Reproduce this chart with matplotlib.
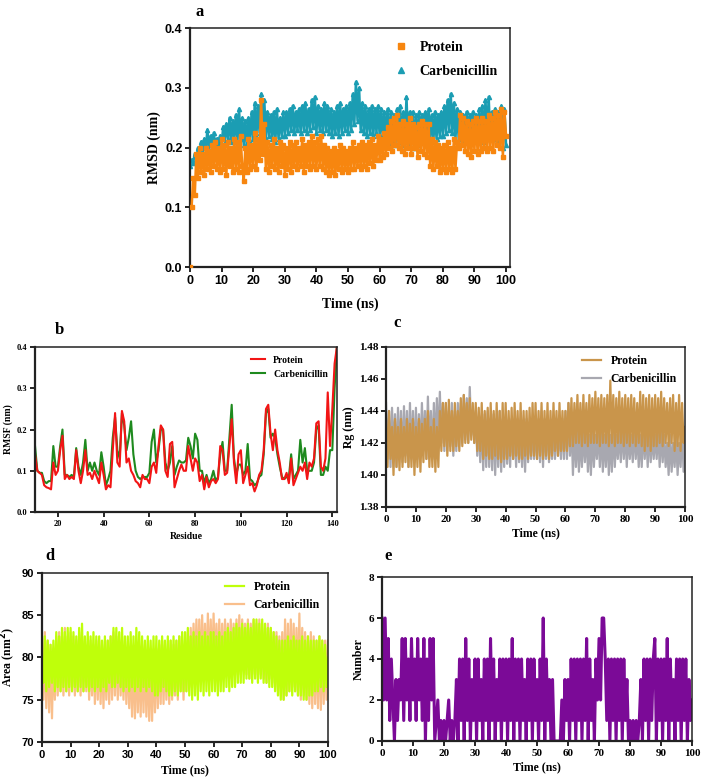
import numpy as np
import matplotlib
matplotlib.use("Agg")
import matplotlib.pyplot as plt

SERIF = "Liberation Serif"
SANS = "Liberation Sans"

# ---------------- data ----------------
# (a) RMSD, 0.5 ns spacing
rmsd_time = np.arange(0, 201) * 0.5
rmsd_protein = [
    0.00, 0.10, 0.15, 0.12, 0.19, 0.15, 0.20, 0.16, 0.19, 0.155,
    0.20, 0.165, 0.195, 0.16, 0.205, 0.17, 0.21, 0.165, 0.20, 0.16,
    0.215, 0.165, 0.205, 0.155, 0.21, 0.17, 0.20, 0.16, 0.215, 0.165,
    0.21, 0.16, 0.22, 0.17, 0.145, 0.20, 0.16, 0.215, 0.165, 0.205,
    0.17, 0.225, 0.165, 0.215, 0.18, 0.28, 0.19, 0.24, 0.165, 0.21,
    0.16, 0.205, 0.17, 0.215, 0.165, 0.20, 0.16, 0.21, 0.17, 0.205,
    0.155, 0.20, 0.165, 0.21, 0.16, 0.205, 0.17, 0.21, 0.165, 0.20,
    0.17, 0.215, 0.16, 0.205, 0.17, 0.21, 0.165, 0.22, 0.17, 0.21,
    0.165, 0.215, 0.17, 0.22, 0.165, 0.205, 0.16, 0.20, 0.155, 0.195,
    0.16, 0.20, 0.155, 0.195, 0.165, 0.205, 0.16, 0.20, 0.165, 0.195,
    0.16, 0.20, 0.165, 0.21, 0.165, 0.20, 0.17, 0.205, 0.165, 0.21,
    0.17, 0.205, 0.165, 0.21, 0.175, 0.215, 0.17, 0.205, 0.18, 0.22,
    0.18, 0.215, 0.185, 0.225, 0.19, 0.235, 0.20, 0.245, 0.195, 0.25,
    0.205, 0.255, 0.20, 0.24, 0.195, 0.245, 0.19, 0.24, 0.20, 0.25,
    0.19, 0.24, 0.20, 0.235, 0.185, 0.24, 0.195, 0.245, 0.19, 0.24,
    0.185, 0.24, 0.17, 0.215, 0.165, 0.21, 0.17, 0.205, 0.16, 0.20,
    0.165, 0.205, 0.16, 0.21, 0.165, 0.20, 0.16, 0.215, 0.165, 0.21,
    0.20, 0.255, 0.205, 0.25, 0.195, 0.245, 0.19, 0.24, 0.185, 0.245,
    0.195, 0.25, 0.19, 0.245, 0.195, 0.25, 0.20, 0.245, 0.195, 0.255,
    0.20, 0.25, 0.195, 0.26, 0.205, 0.255, 0.20, 0.265, 0.185, 0.26,
    0.22]
rmsd_carb = [
    0.17, 0.18, 0.175, 0.19, 0.18, 0.20, 0.19, 0.21, 0.19, 0.215,
    0.20, 0.23, 0.195, 0.22, 0.20, 0.225, 0.205, 0.215, 0.20, 0.22,
    0.205, 0.235, 0.21, 0.24, 0.215, 0.25, 0.21, 0.245, 0.215, 0.255,
    0.21, 0.265, 0.215, 0.25, 0.205, 0.245, 0.20, 0.25, 0.21, 0.26,
    0.215, 0.275, 0.22, 0.27, 0.225, 0.29, 0.22, 0.28, 0.215, 0.26,
    0.22, 0.255, 0.215, 0.26, 0.21, 0.265, 0.215, 0.25, 0.22, 0.26,
    0.22, 0.26, 0.225, 0.265, 0.23, 0.27, 0.225, 0.26, 0.23, 0.265,
    0.225, 0.27, 0.23, 0.275, 0.225, 0.265, 0.23, 0.28, 0.235, 0.285,
    0.225, 0.27, 0.23, 0.265, 0.225, 0.275, 0.23, 0.27, 0.225, 0.265,
    0.22, 0.26, 0.225, 0.27, 0.22, 0.275, 0.225, 0.265, 0.23, 0.27,
    0.225, 0.275, 0.23, 0.29, 0.24, 0.31, 0.245, 0.30, 0.23, 0.275,
    0.225, 0.27, 0.22, 0.265, 0.225, 0.27, 0.22, 0.265, 0.225, 0.27,
    0.22, 0.265, 0.215, 0.26, 0.21, 0.265, 0.205, 0.26, 0.21, 0.255,
    0.205, 0.265, 0.21, 0.27, 0.205, 0.26, 0.21, 0.285, 0.205, 0.26,
    0.21, 0.26, 0.20, 0.255, 0.205, 0.26, 0.215, 0.255, 0.21, 0.26,
    0.22, 0.265, 0.215, 0.255, 0.21, 0.26, 0.215, 0.255, 0.22, 0.26,
    0.22, 0.27, 0.225, 0.28, 0.23, 0.29, 0.225, 0.275, 0.215, 0.265,
    0.215, 0.26, 0.21, 0.255, 0.215, 0.26, 0.21, 0.255, 0.215, 0.26,
    0.215, 0.255, 0.22, 0.265, 0.215, 0.27, 0.21, 0.28, 0.215, 0.285,
    0.22, 0.26, 0.215, 0.265, 0.21, 0.26, 0.215, 0.27, 0.20, 0.265,
    0.205]

# (b) RMSF per residue 10..142
residues = np.arange(10, 143)
rmsf_protein = [
    0.14, 0.10, 0.095, 0.09, 0.065, 0.06, 0.058, 0.055, 0.12, 0.09,
    0.10, 0.15, 0.185, 0.08, 0.09, 0.08, 0.085, 0.08, 0.15, 0.10,
    0.07, 0.10, 0.15, 0.09, 0.095, 0.08, 0.10, 0.085, 0.07, 0.12,
    0.09, 0.055, 0.065, 0.06, 0.15, 0.24, 0.12, 0.11, 0.245, 0.22,
    0.12, 0.13, 0.10, 0.09, 0.075, 0.07, 0.06, 0.09, 0.08, 0.08,
    0.07, 0.11, 0.12, 0.095, 0.16, 0.21, 0.20, 0.10, 0.085, 0.165,
    0.17, 0.06, 0.08, 0.10, 0.115, 0.10, 0.10, 0.16, 0.13, 0.10,
    0.13, 0.12, 0.075, 0.09, 0.055, 0.085, 0.06, 0.075, 0.08, 0.07,
    0.08, 0.16, 0.15, 0.09, 0.095, 0.16, 0.225, 0.12, 0.07, 0.14,
    0.15, 0.07, 0.09, 0.11, 0.065, 0.07, 0.05, 0.065, 0.09, 0.10,
    0.15, 0.25, 0.26, 0.19, 0.15, 0.20, 0.15, 0.12, 0.08, 0.08,
    0.095, 0.07, 0.13, 0.065, 0.08, 0.095, 0.11, 0.10, 0.12, 0.08,
    0.12, 0.11, 0.13, 0.215, 0.22, 0.11, 0.10, 0.13, 0.29, 0.16,
    0.25, 0.36, 0.40]
rmsf_carb = [
    0.16, 0.10, 0.095, 0.095, 0.075, 0.07, 0.075, 0.075, 0.16, 0.11,
    0.11, 0.16, 0.20, 0.09, 0.09, 0.085, 0.09, 0.085, 0.155, 0.11,
    0.09, 0.12, 0.175, 0.10, 0.12, 0.10, 0.12, 0.10, 0.09, 0.145,
    0.11, 0.065, 0.08, 0.10, 0.18, 0.23, 0.15, 0.13, 0.24, 0.21,
    0.15, 0.18, 0.22, 0.14, 0.10, 0.085, 0.08, 0.085, 0.085, 0.085,
    0.095, 0.17, 0.20, 0.12, 0.15, 0.20, 0.20, 0.12, 0.10, 0.12,
    0.16, 0.09, 0.11, 0.125, 0.12, 0.12, 0.125, 0.18, 0.16, 0.13,
    0.19, 0.175, 0.10, 0.10, 0.07, 0.09, 0.07, 0.08, 0.10, 0.075,
    0.085, 0.14, 0.17, 0.10, 0.10, 0.18, 0.26, 0.13, 0.09, 0.115,
    0.115, 0.09, 0.10, 0.165, 0.08, 0.075, 0.065, 0.07, 0.085, 0.09,
    0.14, 0.24, 0.25, 0.18, 0.19, 0.18, 0.14, 0.11, 0.085, 0.08,
    0.085, 0.085, 0.14, 0.08, 0.09, 0.10, 0.175, 0.12, 0.155, 0.10,
    0.10, 0.10, 0.12, 0.20, 0.21, 0.09, 0.09, 0.11, 0.10, 0.15,
    0.15, 0.30, 0.40]

# (c) Rg, 0.5 ns spacing
rg_time = np.arange(0, 201) * 0.5
rg_carb = [
    1.445, 1.41, 1.44, 1.405, 1.442, 1.412, 1.438, 1.405, 1.442, 1.41,
    1.44, 1.408, 1.443, 1.412, 1.44, 1.405, 1.445, 1.41, 1.44, 1.408,
    1.442, 1.41, 1.438, 1.412, 1.445, 1.415, 1.44, 1.41, 1.449, 1.415,
    1.44, 1.41, 1.445, 1.415, 1.448, 1.42, 1.452, 1.42, 1.445, 1.415,
    1.445, 1.415, 1.44, 1.418, 1.445, 1.412, 1.44, 1.415, 1.445, 1.418,
    1.445, 1.42, 1.45, 1.422, 1.448, 1.42, 1.455, 1.425, 1.44, 1.42,
    1.44, 1.412, 1.435, 1.408, 1.435, 1.403, 1.438, 1.405, 1.44, 1.405,
    1.435, 1.403, 1.438, 1.40, 1.435, 1.405, 1.44, 1.402, 1.435, 1.405,
    1.435, 1.407, 1.43, 1.405, 1.435, 1.41, 1.43, 1.405, 1.435, 1.408,
    1.43, 1.405, 1.432, 1.402, 1.435, 1.408, 1.43, 1.41, 1.432, 1.41,
    1.43, 1.41, 1.435, 1.408, 1.44, 1.405, 1.435, 1.41, 1.435, 1.408,
    1.43, 1.41, 1.432, 1.41, 1.435, 1.412, 1.432, 1.41, 1.435, 1.41,
    1.44, 1.41, 1.445, 1.412, 1.435, 1.40, 1.43, 1.405, 1.428, 1.402,
    1.425, 1.405, 1.428, 1.408, 1.43, 1.402, 1.425, 1.40, 1.428, 1.405,
    1.425, 1.41, 1.43, 1.405, 1.428, 1.402, 1.425, 1.405, 1.43, 1.40,
    1.425, 1.402, 1.43, 1.405, 1.425, 1.41, 1.428, 1.408, 1.43, 1.41,
    1.43, 1.405, 1.428, 1.41, 1.425, 1.408, 1.43, 1.41, 1.428, 1.405,
    1.425, 1.405, 1.43, 1.41, 1.428, 1.405, 1.43, 1.408, 1.425, 1.41,
    1.425, 1.41, 1.43, 1.405, 1.428, 1.408, 1.425, 1.405, 1.42, 1.40,
    1.425, 1.402, 1.42, 1.405, 1.425, 1.40, 1.42, 1.405, 1.43, 1.402,
    1.43]
rg_protein = [
    1.435, 1.405, 1.44, 1.41, 1.43, 1.40, 1.435, 1.405, 1.43, 1.403,
    1.435, 1.405, 1.43, 1.408, 1.435, 1.405, 1.432, 1.405, 1.435, 1.40,
    1.43, 1.405, 1.435, 1.402, 1.432, 1.408, 1.435, 1.41, 1.44, 1.405,
    1.43, 1.405, 1.435, 1.402, 1.43, 1.405, 1.44, 1.415, 1.445, 1.418,
    1.445, 1.412, 1.447, 1.415, 1.44, 1.415, 1.445, 1.418, 1.44, 1.415,
    1.448, 1.418, 1.45, 1.42, 1.445, 1.42, 1.448, 1.422, 1.445, 1.42,
    1.445, 1.415, 1.442, 1.415, 1.445, 1.41, 1.44, 1.412, 1.442, 1.41,
    1.445, 1.41, 1.44, 1.412, 1.445, 1.41, 1.44, 1.408, 1.445, 1.41,
    1.445, 1.41, 1.44, 1.412, 1.442, 1.41, 1.445, 1.412, 1.44, 1.41,
    1.445, 1.41, 1.44, 1.412, 1.44, 1.41, 1.442, 1.412, 1.445, 1.412,
    1.445, 1.41, 1.44, 1.412, 1.445, 1.41, 1.44, 1.412, 1.445, 1.41,
    1.44, 1.412, 1.445, 1.415, 1.44, 1.412, 1.445, 1.415, 1.44, 1.415,
    1.44, 1.415, 1.445, 1.418, 1.448, 1.418, 1.445, 1.42, 1.45, 1.42,
    1.445, 1.418, 1.45, 1.42, 1.445, 1.418, 1.45, 1.42, 1.448, 1.42,
    1.452, 1.42, 1.448, 1.418, 1.45, 1.42, 1.448, 1.42, 1.45, 1.418,
    1.459, 1.42, 1.45, 1.418, 1.448, 1.42, 1.452, 1.42, 1.448, 1.418,
    1.45, 1.42, 1.448, 1.418, 1.45, 1.42, 1.448, 1.418, 1.445, 1.42,
    1.452, 1.418, 1.45, 1.415, 1.448, 1.418, 1.45, 1.415, 1.448, 1.418,
    1.45, 1.418, 1.448, 1.42, 1.452, 1.418, 1.448, 1.42, 1.445, 1.418,
    1.448, 1.42, 1.45, 1.415, 1.445, 1.418, 1.45, 1.415, 1.445, 1.42,
    1.43]

# (d) SASA, 0.5 ns spacing
sasa_time = np.arange(0, 201) * 0.5
sasa_carb = [
    82.5, 75, 83, 74, 82, 73.5, 81.5, 72.8, 81, 75,
    82.5, 75.5, 83, 76, 82.5, 75.5, 83.5, 76, 82.5, 75.5,
    83, 76, 82.5, 75.5, 82, 76, 83, 75.5, 82.5, 76,
    82, 76, 81.5, 75, 82, 75.5, 81.5, 74.5, 82, 75,
    82, 74.5, 81.5, 74, 81, 75, 82, 74.5, 82.5, 75,
    83, 75.5, 82.5, 75, 82, 75.5, 81.5, 75, 82, 74.5,
    81, 74, 80.5, 73, 81, 72.8, 81.5, 73.5, 80.5, 73,
    81, 73.5, 81.5, 73, 80.5, 72.5, 80, 72.5, 81, 73.5,
    81, 74, 81.5, 74.5, 82, 74.5, 81.5, 75, 81, 74.5,
    82, 75, 81.5, 75.5, 82, 75, 82.5, 76, 81.5, 75,
    82, 76, 83, 76.5, 83.5, 77, 84, 77.5, 84.5, 78,
    84.5, 77.5, 85, 78, 84, 77.5, 85.2, 78, 84.5, 78,
    85.2, 78.5, 84, 78, 84.5, 77.5, 84, 78, 84.5, 78,
    84, 77.5, 84.5, 78, 84, 78.5, 84.5, 78, 85, 78,
    84.5, 78.5, 84, 78, 84.5, 77.5, 84, 78, 84.5, 78,
    84, 77.5, 84.5, 78, 84, 77.5, 83.5, 77, 84, 77.5,
    83.5, 77, 83, 76.5, 83, 76, 82.5, 75.5, 83, 75,
    84.5, 75.5, 84, 76, 84.5, 76.5, 84, 76, 83.5, 75.5,
    85.2, 75, 83.5, 75.5, 83, 75, 82.5, 74.5, 83, 74,
    82.5, 74.5, 82, 74, 82.5, 73.8, 82, 74.5, 82, 75,
    82]
sasa_protein = [
    80, 77, 82.5, 76, 82, 76.5, 81.5, 77, 82, 76,
    83, 76.5, 82.5, 76, 83.5, 76.5, 83, 76, 83.5, 76.5,
    83.5, 76, 83, 76.5, 82.5, 76, 83.5, 76.5, 84, 76,
    82.5, 76.5, 83, 76, 82.5, 76.5, 83, 76, 82.5, 76.5,
    82.5, 76, 82, 76.5, 82.5, 76, 82, 77, 82.5, 76.5,
    83.5, 76.5, 83.5, 77, 83, 76.5, 83.5, 76, 82.5, 76.5,
    82.5, 76, 83, 76.5, 82.5, 76, 83.5, 76.5, 83, 76,
    82.5, 76.5, 82, 76, 82.5, 76.5, 82, 76, 82.5, 75.5,
    82.5, 75.5, 82, 76, 82.5, 76.5, 82, 76, 82.5, 75.5,
    82, 75.5, 82.5, 76, 82, 75.5, 82.5, 76, 83, 76,
    83, 76, 83.5, 75.5, 82.5, 75, 83, 75.5, 82.5, 75,
    83, 76, 82.5, 75.5, 83, 76, 82.5, 75.5, 83, 76,
    83, 76, 82.5, 75.5, 83, 76, 82.5, 76, 83, 76.5,
    83.5, 76, 83, 76.5, 83.5, 76.5, 84, 77, 83.5, 77,
    84, 77, 83.5, 77.5, 84, 77.5, 83.5, 77, 84.5, 77.5,
    84.5, 77, 84, 77.5, 84.5, 77, 84, 77, 83.5, 76.5,
    83.5, 76.5, 83, 76, 82.5, 75.5, 82, 75, 82, 75,
    82, 75.5, 82.5, 76, 82, 75.5, 82.5, 76, 82, 75.5,
    82, 75.5, 82.5, 75, 82, 75, 82.5, 75.5, 82, 75.5,
    82, 76, 82, 76, 82.5, 76.5, 82, 76, 81.5, 76.5,
    80]

# (e) H-bond number, 0.5 ns spacing
hb_time = np.arange(0, 201) * 0.5
hbond = [
    6, 2, 6, 2, 5, 1, 4, 2, 0, 3,
    1, 3, 2, 5, 1, 5, 2, 4, 1, 5,
    2, 4, 1, 5, 2, 4, 1, 5, 0, 4,
    1, 5, 2, 5, 0, 1, 2, 0, 1, 0,
    1, 0, 1, 2, 0, 1, 0, 1, 3, 0,
    4, 1, 4, 0, 5, 1, 4, 0, 3, 1,
    4, 0, 4, 1, 3, 0, 4, 1, 4, 0,
    5, 1, 4, 0, 3, 1, 4, 0, 4, 1,
    4, 0, 4, 1, 5, 0, 4, 1, 4, 0,
    4, 1, 3, 0, 4, 1, 4, 0, 4, 1,
    3, 0, 4, 1, 6, 0, 4, 1, 3, 0,
    3, 0, 0, 0, 0, 0, 2, 0, 3, 1,
    3, 0, 4, 1, 4, 0, 4, 1, 4, 0,
    4, 1, 5, 0, 4, 1, 3, 0, 4, 2,
    5, 2, 6, 6, 4, 1, 4, 0, 4, 1,
    4, 0, 4, 1, 4, 0, 4, 1, 3, 0,
    1, 0, 1, 0, 1, 0, 1, 3, 0, 4,
    1, 4, 0, 4, 1, 4, 5, 0, 4, 1,
    4, 0, 4, 1, 5, 0, 4, 1, 3, 0,
    4, 1, 4, 0, 4, 1, 4, 0, 3, 1,
    2]

# ---------------- figure ----------------
fig = plt.figure(figsize=(7.02, 7.79), dpi=100)


def style_axes(ax, tick_font, tick_size):
    for s in ax.spines.values():
        s.set_linewidth(1.1)
        s.set_color("#222222")
    ax.spines["left"].set_linewidth(1.6)
    ax.spines["bottom"].set_linewidth(1.6)
    ax.tick_params(direction="out", length=3.5, width=1.2, pad=2)
    for lab in ax.get_xticklabels() + ax.get_yticklabels():
        lab.set_fontfamily(tick_font)
        lab.set_fontweight("bold")
        lab.set_fontsize(tick_size)


def label(ax, xl, yl, size):
    ax.set_xlabel(xl, fontfamily=SERIF, fontweight="bold", fontsize=size, labelpad=3)
    ax.set_ylabel(yl, fontfamily=SERIF, fontweight="bold", fontsize=size, labelpad=3)


def rev_legend(ax, size, **kw):
    h, l = ax.get_legend_handles_labels()
    ax.legend(h[::-1], l[::-1], frameon=False, loc="upper right",
              prop={"family": SERIF, "weight": "bold", "size": size}, **kw)


# (a)
ax_a = fig.add_axes([0.2707, 0.657, 0.456, 0.307])
ax_a.plot(rmsd_time, rmsd_carb, color="#1B9DB3", lw=1.8, zorder=2)
ax_a.plot(rmsd_time, rmsd_carb, ls="none", marker="^", ms=3,
          color="#1B9DB3", label="Carbenicillin", zorder=2)
ax_a.plot(rmsd_time[1:], rmsd_protein[1:], color="#F7860F", lw=1.8, zorder=3)
ax_a.plot(rmsd_time, rmsd_protein, ls="none", marker="s", ms=2.6,
          color="#F7860F", label="Protein", zorder=3)
ax_a.set_xlim(0, 101.3)
ax_a.set_ylim(0, 0.4)
ax_a.set_xticks(np.arange(0, 101, 10))
ax_a.set_yticks(np.arange(0, 0.41, 0.1))
ax_a.set_yticklabels(["0.0", "0.1", "0.2", "0.3", "0.4"])
style_axes(ax_a, SANS, 9)
label(ax_a, "Time (ns)", "RMSD (nm)", 10)
ax_a.xaxis.labelpad = 8
rev_legend(ax_a, 10, handlelength=1.0, markerscale=1.6, labelspacing=0.8)
fig.text(0.278, 0.995, "a", fontfamily=SERIF, fontweight="bold", fontsize=12, va="top")

# (b)
ax_b = fig.add_axes([0.0499, 0.3427, 0.430, 0.2118])
ax_b.plot(residues, rmsf_carb, color="#1E8A1E", lw=1.5, label="Carbenicillin")
ax_b.plot(residues, rmsf_protein, color="#F21515", lw=1.5, label="Protein")
ax_b.set_xlim(10, 142)
ax_b.set_ylim(0, 0.4)
ax_b.set_xticks(np.arange(20, 141, 20))
ax_b.set_yticks(np.arange(0, 0.41, 0.1))
ax_b.set_yticklabels(["0.0", "0.1", "0.2", "0.3", "0.4"])
style_axes(ax_b, SERIF, 6)
label(ax_b, "Residue", "RMSF (nm)", 7)
rev_legend(ax_b, 7, handlelength=1.5)
fig.text(0.078, 0.587, "b", fontfamily=SERIF, fontweight="bold", fontsize=12, va="top")

# (c)
ax_c = fig.add_axes([0.5499, 0.3492, 0.426, 0.2054])
ax_c.plot(rg_time, rg_carb, color="#A8A8B0", lw=1.6, label="Carbenicillin")
ax_c.plot(rg_time, rg_protein, color="#C9954B", lw=1.6, label="Protein")
ax_c.set_xlim(0, 100)
ax_c.set_ylim(1.38, 1.48)
ax_c.set_xticks(np.arange(0, 101, 10))
ax_c.set_yticks(np.arange(1.38, 1.481, 0.02))
ax_c.set_yticklabels(["1.38", "1.40", "1.42", "1.44", "1.46", "1.48"])
style_axes(ax_c, SERIF, 8)
label(ax_c, "Time (ns)", "Rg (nm)", 8.5)
rev_legend(ax_c, 8.5, handlelength=1.6, borderaxespad=0.3)
fig.text(0.560, 0.595, "c", fontfamily=SERIF, fontweight="bold", fontsize=12, va="top")

# (d)
ax_d = fig.add_axes([0.0598, 0.0475, 0.4074, 0.217])
ax_d.plot(sasa_time, sasa_carb, color="#F9BF8C", lw=1.6, label="Carbenicillin")
ax_d.plot(sasa_time, sasa_protein, color="#BFFF0A", lw=1.6, label="Protein")
ax_d.set_xlim(0, 100)
ax_d.set_ylim(70, 90)
ax_d.set_xticks(np.arange(0, 101, 10))
ax_d.set_yticks(np.arange(70, 91, 5))
style_axes(ax_d, SANS, 8)
label(ax_d, "Time (ns)", "Area (nm$^\\mathbf{2}$)", 8.5)
rev_legend(ax_d, 8.5, handlelength=1.6, borderaxespad=0.3)
fig.text(0.064, 0.296, "d", fontfamily=SERIF, fontweight="bold", fontsize=12, va="top")

# (e)
ax_e = fig.add_axes([0.5442, 0.0488, 0.4416, 0.2105])
ax_e.plot(hb_time, hbond, color="#7B0A97", lw=2.2)
ax_e.set_xlim(0, 100)
ax_e.set_ylim(0, 8)
ax_e.set_xticks(np.arange(0, 101, 10))
ax_e.set_yticks(np.arange(0, 9, 2))
style_axes(ax_e, SERIF, 8)
label(ax_e, "Time (ns)", "Number", 8.5)
fig.text(0.548, 0.296, "e", fontfamily=SERIF, fontweight="bold", fontsize=12, va="top")

fig.savefig("out.png", dpi=100)
